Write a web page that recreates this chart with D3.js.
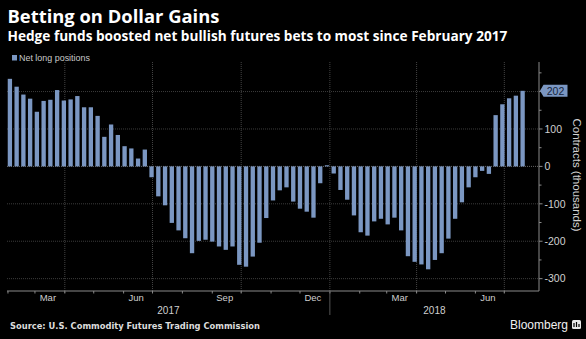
<!DOCTYPE html>
<html>
<head>
<meta charset="utf-8">
<script src="https://cdn.jsdelivr.net/npm/d3@7/dist/d3.min.js"></script>
<style>
  html, body { margin: 0; padding: 0; background: #000; }
  svg { display: block; }
</style>
</head>
<body>
<svg id="chart" width="586" height="339"></svg>
<script>
// Weekly CFTC net long positions in dollar futures, thousands of contracts
const firstWeek = "2017-02-03";
const netLong = [
  234, 213, 192, 181, 146, 175, 178, 204, 176, 179,
  188, 158, 158, 135, 79, 112, 84, 54, 48, 21,
  45, -29, -80, -104, -151, -171, -192, -232, -199, -196,
  -201, -214, -223, -214, -263, -268, -241, -204, -138, -91,
  -64, -56, -94, -113, -121, -137, -45, 3, -19, -63,
  -89, -131, -176, -185, -147, -140, -155, -137, -171, -240,
  -255, -262, -275, -250, -232, -193, -140, -96, -56, -29,
  -12, -20, 137, 166, 182, 189, 202
];
const yTicks = [-300, -200, -100, 0, 100, 200];
const monthLabels = ["2017-03-01", "2017-06-01", "2017-09-01", "2017-12-01", "2018-03-01", "2018-06-01"];
const yearLabels = ["2017", "2018"];
const latestLabel = "202";

const svg = d3.select("#chart");
const W = 586, H = 339;
svg.append("rect").attr("width", W).attr("height", H).attr("fill", "#000");

const plot = { left: 7, right: 539, top: 62, bottom: 291 };
const barColor = "#7b97c2";
const parse = d3.utcParse("%Y-%m-%d");

const start = parse(firstWeek);
const dates = netLong.map((_, i) => d3.utcWeek.offset(start, i));

const x = d3.scaleUtc()
  .domain([parse("2017-01-31"), parse("2018-08-06")])
  .range([plot.left, plot.right]);
const y = d3.scaleLinear()
  .domain([-333, 279])
  .range([plot.bottom, plot.top]);

// fit a text element to a target width by adjusting its font size
function fitWidth(sel, target) {
  const node = sel.node();
  const fs = parseFloat(sel.attr("font-size"));
  const w = node.getComputedTextLength();
  if (w > 0) sel.attr("font-size", (fs * target / w).toFixed(2));
}

// Title block
const title = svg.append("text").attr("x", 7.5).attr("y", 22.5)
  .attr("font-family", "'Open Sans', sans-serif").attr("font-weight", 700)
  .attr("font-size", 17).attr("fill", "#fff").text("Betting on Dollar Gains");
fitWidth(title, 212);
const sub = svg.append("text").attr("x", 7.5).attr("y", 41)
  .attr("font-family", "'Open Sans', sans-serif").attr("font-weight", 700)
  .attr("font-size", 13).attr("fill", "#fff")
  .text("Hedge funds boosted net bullish futures bets to most since February 2017");
fitWidth(sub, 500);

// Legend
svg.append("rect").attr("x", 12).attr("y", 55).attr("width", 5).attr("height", 5.5).attr("fill", barColor);
const leg = svg.append("text").attr("x", 19).attr("y", 60.5)
  .attr("font-family", "'Liberation Sans', Arial, sans-serif").attr("font-size", 8.5)
  .attr("fill", "#c8c8c8").text("Net long positions");
fitWidth(leg, 71);

// Horizontal gridlines
const gridG = svg.append("g");
gridG.selectAll("line.h").data(yTicks).join("line")
  .attr("x1", plot.left).attr("x2", plot.right)
  .attr("y1", d => y(d)).attr("y2", d => y(d))
  .attr("stroke", d => d === 0 ? "#666" : "#3c3c3c")
  .attr("stroke-width", 1)
  .attr("stroke-dasharray", "1,1");

// Vertical gridlines at quarter starts
const quarterStarts = d3.utcMonth.range(parse("2017-02-01"), parse("2018-08-01"))
  .filter(d => d.getUTCMonth() % 3 === 0);
gridG.selectAll("line.v").data(quarterStarts).join("line")
  .attr("x1", d => x(d)).attr("x2", d => x(d))
  .attr("y1", plot.top).attr("y2", plot.bottom + 2)
  .attr("stroke", "#444").attr("stroke-dasharray", "1,1");

// Bars
const weekPx = x(d3.utcWeek.offset(start, 1)) - x(start);
const bw = weekPx * 0.64;
svg.append("g").selectAll("rect").data(netLong).join("rect")
  .attr("x", (d, i) => x(dates[i]) - bw / 2)
  .attr("width", bw)
  .attr("y", d => y(Math.max(0, d)))
  .attr("height", d => Math.max(0.8, Math.abs(y(d) - y(0))))
  .attr("fill", barColor);

// Bottom axis
const axisG = svg.append("g");
axisG.append("line").attr("x1", plot.left).attr("x2", plot.right)
  .attr("y1", plot.bottom).attr("y2", plot.bottom)
  .attr("stroke", "#8a8a8a").attr("stroke-width", 1);
const monthStarts = d3.utcMonth.range(parse("2017-02-01"), parse("2018-08-01"));
axisG.selectAll("line.mt").data(monthStarts).join("line")
  .attr("x1", d => x(d)).attr("x2", d => x(d))
  .attr("y1", plot.bottom).attr("y2", plot.bottom + 2.5)
  .attr("stroke", "#8a8a8a");
const fmtMonth = d3.utcFormat("%b");
axisG.selectAll("text.m").data(monthLabels.map(parse)).join("text")
  .attr("x", d => (x(d) + x(d3.utcMonth.offset(d, 1))) / 2 - 2)
  .attr("y", 300.5)
  .attr("text-anchor", "middle")
  .attr("font-family", "'Liberation Sans', Arial, sans-serif").attr("font-size", 9.5)
  .attr("fill", "#cfcfcf").text(fmtMonth);

// Year labels and separator
const yearBreak = x(parse("2018-01-01"));
axisG.append("line").attr("x1", yearBreak).attr("x2", yearBreak)
  .attr("y1", plot.bottom).attr("y2", 315).attr("stroke", "#555");
const yearCenters = [(plot.left + yearBreak) / 2, (yearBreak + plot.right) / 2];
axisG.selectAll("text.yr").data(yearLabels).join("text")
  .attr("x", (d, i) => yearCenters[i]).attr("y", 313.5)
  .attr("text-anchor", "middle")
  .attr("font-family", "'Liberation Sans', Arial, sans-serif").attr("font-size", 10)
  .attr("fill", "#cfcfcf").text(d => d);

// Right axis
const rAxis = svg.append("g");
rAxis.append("line").attr("x1", plot.right).attr("x2", plot.right)
  .attr("y1", plot.top).attr("y2", plot.bottom)
  .attr("stroke", "#8a8a8a");
const minorTicks = d3.range(-300, 280, 50);
rAxis.selectAll("line.rt").data(minorTicks).join("line")
  .attr("x1", plot.right).attr("x2", d => plot.right + (d % 100 === 0 ? 3.5 : 2.5))
  .attr("y1", d => y(d)).attr("y2", d => y(d))
  .attr("stroke", "#8a8a8a");
rAxis.selectAll("text.rl").data(yTicks.filter(d => d !== 200)).join("text")
  .attr("x", 544.5).attr("y", d => y(d) + 3.7)
  .attr("font-family", "'Liberation Sans', Arial, sans-serif").attr("font-size", 10.5)
  .attr("fill", "#d0d0d0").text(d => d < 0 ? "-" + Math.abs(d) : d);
svg.append("text")
  .attr("transform", `translate(573,175) rotate(90)`)
  .attr("text-anchor", "middle")
  .attr("font-family", "'Liberation Sans', Arial, sans-serif").attr("font-size", 11.5)
  .attr("fill", "#d0d0d0").text("Contracts (thousands)");

// Latest value tag
const lastVal = netLong[netLong.length - 1];
const ty = y(lastVal);
svg.append("path")
  .attr("d", `M${plot.right + 1},${ty} L${plot.right + 4.5},${ty - 6} L567.5,${ty - 6} L567.5,${ty + 6} L${plot.right + 4.5},${ty + 6} Z`)
  .attr("fill", barColor);
svg.append("text").attr("x", 555.5).attr("y", ty + 3.8)
  .attr("text-anchor", "middle")
  .attr("font-family", "'Liberation Sans', Arial, sans-serif").attr("font-size", 10.5)
  .attr("fill", "#14233b").text(latestLabel);

// Footer
const src = svg.append("text").attr("x", 10).attr("y", 329)
  .attr("font-family", "'DejaVu Sans', sans-serif").attr("font-weight", 700)
  .attr("font-size", 9).attr("fill", "#dcdcdc")
  .text("Source: U.S. Commodity Futures Trading Commission");
fitWidth(src, 250);
const bb = svg.append("text").attr("x", 510).attr("y", 329)
  .attr("font-family", "'Liberation Sans', Arial, sans-serif")
  .attr("font-size", 11.5).attr("fill", "#f0f0f0").text("Bloomberg");
fitWidth(bb, 58);
// Bloomberg terminal glyph
svg.append("rect").attr("x", 572).attr("y", 320).attr("width", 9).attr("height", 9)
  .attr("rx", 1.5).attr("fill", "#e8e8e8");
svg.append("path").attr("d", "M574,327 L574,323 M576.5,327 L576.5,322 M579,327 L579,324")
  .attr("stroke", "#000").attr("stroke-width", 1.2);
</script>
</body>
</html>
